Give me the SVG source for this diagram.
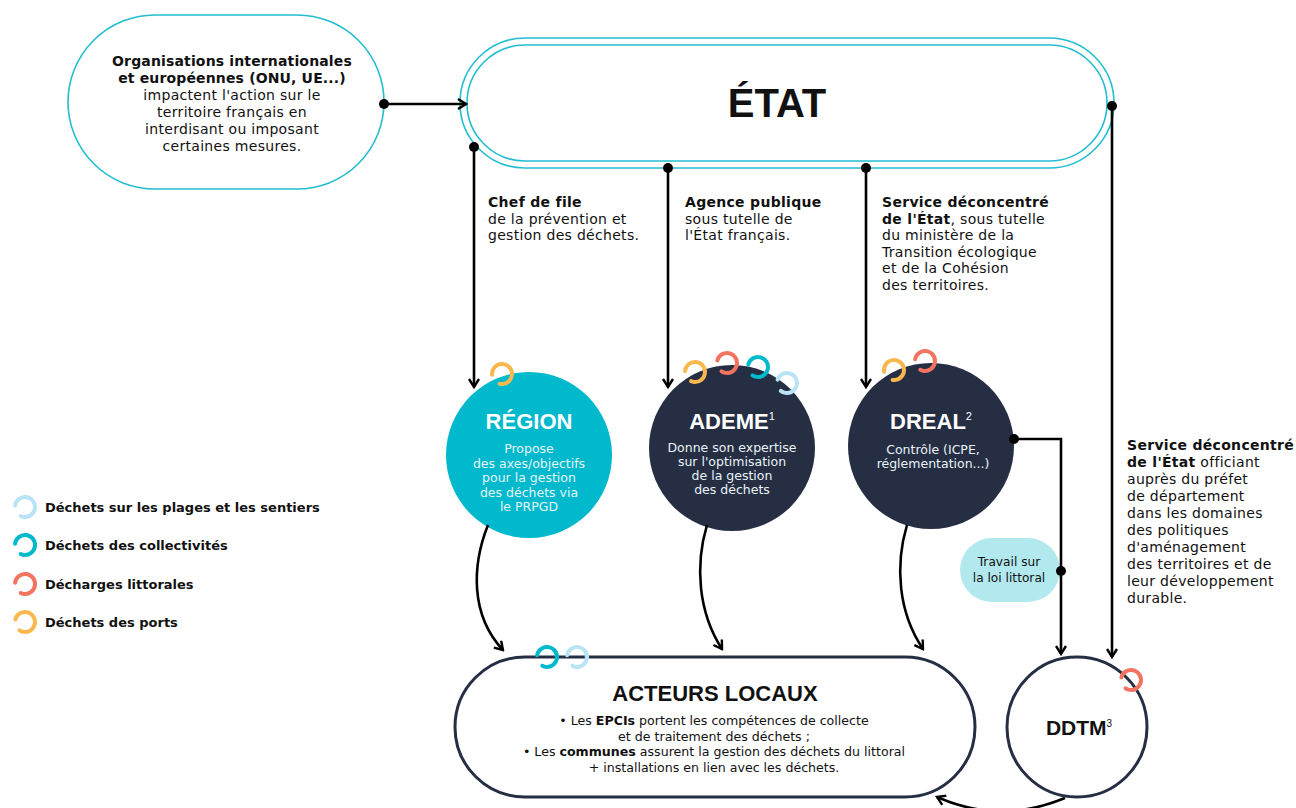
<svg xmlns="http://www.w3.org/2000/svg" width="1296" height="808" viewBox="0 0 1296 808">
<defs>
<style>
text{font-family:"DejaVu Sans","Liberation Sans",sans-serif;fill:#111;}
.h{font-family:"Liberation Sans",Arial,sans-serif;font-weight:bold;}
.b{font-weight:bold;}
.t{font-size:14px;letter-spacing:0.3px;}
.tb{letter-spacing:0.15px;}
.c{text-anchor:middle;}
.w{fill:#fff;}
.wl{fill:#e6f4f7;font-size:12.5px;}
.outline{fill:#fff;stroke:#22bdd0;stroke-width:1.6;}
.con{fill:none;stroke:#000;stroke-width:2.6;}
.dot{fill:#000;}
.ring{fill:none;stroke-width:4;stroke-dasharray:50 13;stroke-linecap:round;}
.lb{stroke:#b9e4f7;}.tl{stroke:#00b9cd;}.co{stroke:#f2735f;}.or{stroke:#f8b84e;}
</style>
<marker id="ah" viewBox="0 0 12 12" refX="10" refY="6" markerWidth="12" markerHeight="12" markerUnits="userSpaceOnUse" orient="auto">
<path d="M2,1 L10,6 L2,11" fill="none" stroke="#000" stroke-width="2.4"/>
</marker>
<circle id="ring" r="10"/>
</defs>

<g id="orgs">
<rect class="outline" x="68" y="15" width="316" height="174" rx="87" ry="87"/>
<text class="t c" x="232"><tspan class="b tb" x="232" y="66">Organisations internationales</tspan><tspan class="b tb" x="232" y="83">et européennes (ONU, UE...)</tspan><tspan x="232" y="100">impactent l'action sur le</tspan><tspan x="232" y="117">territoire français en</tspan><tspan x="232" y="134">interdisant ou imposant</tspan><tspan x="232" y="151">certaines mesures.</tspan></text>
</g>

<g id="etat">
<rect class="outline" x="460" y="38" width="654" height="130" rx="65" ry="65"/>
<rect class="outline" x="467" y="45" width="640" height="116" rx="58" ry="58"/>
<text class="h c" x="777" y="117" font-size="40">ÉTAT</text>
</g>

<g id="label-region">
<text class="t"><tspan class="b" x="488" y="207">Chef de file</tspan><tspan x="488" y="223.5">de la prévention et</tspan><tspan x="488" y="240">gestion des déchets.</tspan></text>
</g>
<g id="label-ademe">
<text class="t"><tspan class="b" x="685" y="207">Agence publique</tspan><tspan x="685" y="223.5">sous tutelle de</tspan><tspan x="685" y="240">l'État français.</tspan></text>
</g>
<g id="label-dreal">
<text class="t"><tspan class="b" x="882" y="207">Service déconcentré</tspan><tspan x="882" y="223.5"><tspan class="b">de l'État</tspan>, sous tutelle</tspan><tspan x="882" y="240">du ministère de la</tspan><tspan x="882" y="256.5">Transition écologique</tspan><tspan x="882" y="273">et de la Cohésion</tspan><tspan x="882" y="289.5">des territoires.</tspan></text>
</g>
<g id="label-ddtm">
<text class="t"><tspan class="b" x="1127" y="450">Service déconcentré</tspan><tspan x="1127" y="467"><tspan class="b">de l'État</tspan> officiant</tspan><tspan x="1127" y="484">auprès du préfet</tspan><tspan x="1127" y="501">de département</tspan><tspan x="1127" y="518">dans les domaines</tspan><tspan x="1127" y="535">des politiques</tspan><tspan x="1127" y="552">d'aménagement</tspan><tspan x="1127" y="569">des territoires et de</tspan><tspan x="1127" y="586">leur développement</tspan><tspan x="1127" y="603">durable.</tspan></text>
</g>

<g id="region">
<circle cx="529" cy="455" r="83" fill="#00b9cd"/>
<text class="h c w" x="529" y="429" font-size="22">RÉGION</text>
<text class="c wl"><tspan x="529" y="453">Propose</tspan><tspan x="529" y="467.5">des axes/objectifs</tspan><tspan x="529" y="482">pour la gestion</tspan><tspan x="529" y="496.5">des déchets via</tspan><tspan x="529" y="511">le PRPGD</tspan></text>
<use href="#ring" class="ring or" transform="translate(502,374) rotate(175)"/>
</g>

<g id="ademe">
<circle cx="732" cy="448" r="83" fill="#262e44"/>
<text class="h c w" x="732" y="429" font-size="22">ADEME<tspan font-size="11" font-weight="normal" dy="-9">1</tspan></text>
<text class="c wl"><tspan x="732" y="452">Donne son expertise</tspan><tspan x="732" y="466">sur l'optimisation</tspan><tspan x="732" y="480">de la gestion</tspan><tspan x="732" y="494">des déchets</tspan></text>
<use href="#ring" class="ring or" transform="translate(695,372) rotate(185)"/>
<use href="#ring" class="ring co" transform="translate(727,363) rotate(195)"/>
<use href="#ring" class="ring tl" transform="translate(758,367) rotate(195)"/>
<use href="#ring" class="ring lb" transform="translate(787,383) rotate(200)"/>
</g>

<g id="dreal">
<circle cx="931" cy="446" r="83" fill="#262e44"/>
<text class="h c w" x="931" y="429" font-size="22">DREAL<tspan font-size="11" font-weight="normal" dy="-9">2</tspan></text>
<text class="c wl"><tspan x="933" y="454">Contrôle (ICPE,</tspan><tspan x="933" y="468">réglementation...)</tspan></text>
<use href="#ring" class="ring or" transform="translate(894,370) rotate(170)"/>
<use href="#ring" class="ring co" transform="translate(925,361) rotate(190)"/>
</g>

<g id="loi-littoral">
<rect x="960" y="538" width="100" height="64" rx="32" ry="32" fill="#b2e9ef"/>
<text class="c" font-size="12.2"><tspan x="1009" y="566">Travail sur</tspan><tspan x="1009" y="582">la loi littoral</tspan></text>
</g>

<g id="acteurs">
<rect x="455" y="657" width="520" height="140" rx="70" ry="70" fill="#fff" stroke="#262e44" stroke-width="3"/>
<text class="h c" x="715" y="701" font-size="22">ACTEURS LOCAUX</text>
<text class="c" font-size="12.6"><tspan x="714" y="725">• Les <tspan class="b">EPCIs</tspan> portent les compétences de collecte</tspan><tspan x="714" y="740.5">et de traitement des déchets ;</tspan><tspan x="714" y="756">• Les <tspan class="b">communes</tspan> assurent la gestion des déchets du littoral</tspan><tspan x="714" y="771.5">+ installations en lien avec les déchets.</tspan></text>
<use href="#ring" class="ring tl" transform="translate(547,657) rotate(190)"/>
<use href="#ring" class="ring lb" transform="translate(577,657) rotate(190)"/>
</g>

<g id="ddtm">
<circle cx="1077" cy="727" r="70" fill="#fff" stroke="#262e44" stroke-width="3"/>
<text class="h c" x="1079" y="735" font-size="21">DDTM<tspan font-size="10" font-weight="normal" dy="-8">3</tspan></text>
<use href="#ring" class="ring co" transform="translate(1131,680) rotate(195)"/>
</g>

<g id="legend">
<use href="#ring" class="ring lb" transform="translate(25,507) rotate(187)"/>
<text class="b" x="45" y="512" font-size="13">Déchets sur les plages et les sentiers</text>
<use href="#ring" class="ring tl" transform="translate(25,545) rotate(187)"/>
<text class="b" x="45" y="550" font-size="13">Déchets des collectivités</text>
<use href="#ring" class="ring co" transform="translate(25,584) rotate(187)"/>
<text class="b" x="45" y="589" font-size="13">Décharges littorales</text>
<use href="#ring" class="ring or" transform="translate(25,622) rotate(195)"/>
<text class="b" x="45" y="627" font-size="13">Déchets des ports</text>
</g>

<g id="connectors">
<line class="con" x1="384" y1="104" x2="466" y2="104" marker-end="url(#ah)"/>
<line class="con" x1="474" y1="147" x2="474" y2="387" marker-end="url(#ah)"/>
<line class="con" x1="668" y1="168" x2="668" y2="387" marker-end="url(#ah)"/>
<line class="con" x1="866" y1="168" x2="866" y2="387" marker-end="url(#ah)"/>
<line class="con" x1="1112" y1="106" x2="1112" y2="657" marker-end="url(#ah)"/>
<path class="con" d="M1014,439 H1061 V654" marker-end="url(#ah)"/>
<path class="con" d="M488,525 C472,565 470,615 503,650" marker-end="url(#ah)"/>
<path class="con" d="M707,525 C695,565 698,612 722,649" marker-end="url(#ah)"/>
<path class="con" d="M907,525 C895,565 898,612 923,649" marker-end="url(#ah)"/>
<path class="con" d="M1065,798 Q1000,825 937,797" marker-end="url(#ah)"/>
<circle class="dot" cx="384" cy="104" r="5"/>
<circle class="dot" cx="474" cy="147" r="5"/>
<circle class="dot" cx="668" cy="168" r="5"/>
<circle class="dot" cx="866" cy="168" r="5"/>
<circle class="dot" cx="1112" cy="106" r="5"/>
<circle class="dot" cx="1014" cy="439" r="5"/>
<circle class="dot" cx="1061" cy="571" r="5"/>
</g>
</svg>
